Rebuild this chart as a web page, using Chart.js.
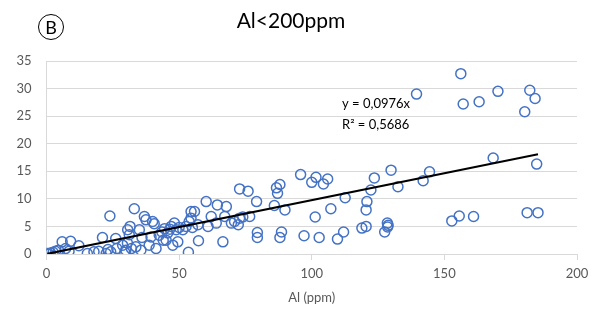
<!DOCTYPE html>
<html>
<head>
<meta charset="utf-8">
<script src="https://cdn.jsdelivr.net/npm/chart.js@4.4.1/dist/chart.umd.min.js"></script>
<style>
  html, body { margin: 0; padding: 0; background: #ffffff; }
  #wrap { width: 596px; height: 315px; position: relative; }
</style>
</head>
<body>
<div id="wrap"><canvas id="c" width="596" height="315"></canvas></div>
<script>
// ---- data ----
const chartTitle = "Al<200ppm";
const panelLabel = "B";
const xAxisTitle = "Al (ppm)";
const trendSlope = 0.0976;
const trendText = "y = 0,0976x";
const r2Text = "R² = 0,5686";
const xTicks = [0, 50, 100, 150, 200];
const yTicks = [0, 5, 10, 15, 20, 25, 30, 35];

const alValues = [
  0.3, 0.8, 1.5, 2.5, 3.4, 4.5, 5.9, 7.2, 9.1, 8.5, 12.2, 15.4, 17.9, 19.7, 21.1, 22.5, 23.2, 23.9, 24.2, 26.1,
  26.5, 28.7, 29.9, 29.5, 30.6, 31.2, 30.5, 31.5, 32.0,
  33.1, 33.7, 35.0, 35.6, 36.9, 37.5, 36.0, 38.7, 39.4, 40.0, 40.6, 41.3, 42.5, 43.5, 44.0, 45.1, 45.7, 46.5, 47.6,
  48.2, 48.9, 49.5, 50.0, 51.4, 52.6, 53.5, 53.8, 54.5, 54.5, 55.8, 55.0, 57.1, 57.3, 47.0, 44.5,
  60.2, 60.9, 62.1, 64.0, 64.4, 66.5, 67.2, 67.8, 69.7, 70.9, 72.3, 72.8, 72.8, 74.0, 76.0, 76.6, 79.2, 79.5, 79.5,
  85.9, 86.7, 87.1, 88.0, 88.0, 88.6, 89.9,
  95.8, 97.1, 100.0, 101.3, 101.6, 102.8, 104.4, 106.0, 107.2, 109.7, 112.0, 112.6, 118.9, 120.5, 120.5, 120.8,
  122.3, 123.6, 127.5, 128.5, 128.8, 128.6, 129.9, 132.5, 139.5,
  142.0, 144.4, 152.8, 155.6, 156.2, 157.1, 161.0, 163.1, 168.4, 170.2, 180.3, 181.2, 182.2, 184.2, 184.8, 185.3
];
const otherValues = [
  0.1, 0.0, 0.2, 0.3, 0.5, 0.7, 2.2, 1.0, 2.3, 0.5, 1.5, 0.1, 0.4, 0.5, 3.0, 0.1, 0.8, 6.9, 0.4, 2.8,
  1.0, 1.6, 0.7, 0.3, 4.4, 3.5, 2.0, 5.0, 1.0,
  8.2, 1.3, 4.4, 0.7, 6.8, 6.2, 3.0, 1.6, 3.1, 5.9, 5.5, 1.0, 3.4, 4.0, 2.5, 2.5, 3.8, 4.5, 1.6,
  5.6, 4.4, 2.2, 4.8, 4.4, 5.0, 0.3, 5.9, 7.7, 6.5, 7.7, 4.8, 5.3, 2.4, 5.0, 4.6,
  9.5, 5.0, 6.8, 5.6, 8.9, 2.2, 6.8, 8.6, 5.6, 5.9, 5.3, 6.5, 11.8, 6.7, 11.4, 6.8, 9.5, 3.9, 3.0,
  8.8, 12.0, 11.0, 12.6, 3.0, 4.0, 8.0,
  14.4, 3.3, 13.0, 6.7, 13.9, 3.0, 12.7, 13.6, 8.2, 2.7, 4.0, 10.2, 4.7, 5.0, 8.0, 9.5,
  11.6, 13.8, 4.0, 5.6, 5.2, 4.9, 15.2, 12.2, 29.0,
  13.3, 14.9, 6.0, 6.9, 32.7, 27.2, 6.8, 27.6, 17.4, 29.5, 25.8, 7.5, 29.7, 28.2, 16.3, 7.5
];

const points = alValues.map((x, i) => ({ x: x, y: otherValues[i] }));
const xMin = Math.min(...alValues), xMax = Math.max(...alValues);
const trendPoints = [{ x: xMin, y: trendSlope * xMin }, { x: xMax, y: trendSlope * xMax }];

const FONT = "Lato, 'Open Sans', sans-serif";

const annotations = {
  id: 'annotations',
  afterDraw(chart) {
    const ctx = chart.ctx;
    const xs = chart.scales.x, ys = chart.scales.y;
    ctx.save();
    // Title
    ctx.fillStyle = '#000000';
    ctx.font = "21px " + FONT;
    ctx.textAlign = 'center';
    ctx.textBaseline = 'middle';
    ctx.fillText(chartTitle, 291, 21);
    // Circled panel letter
    ctx.beginPath();
    ctx.arc(51, 27, 12.5, 0, Math.PI * 2);
    ctx.strokeStyle = '#000000';
    ctx.lineWidth = 1;
    ctx.stroke();
    ctx.font = "18px " + FONT;
    ctx.fillText(panelLabel, 51, 28);
    // Trendline equation
    ctx.font = "13px " + FONT;
    ctx.textAlign = 'left';
    ctx.fillText(trendText, 342, 104);
    ctx.fillText(r2Text, 342, 125);
    ctx.restore();
  }
};

new Chart(document.getElementById('c'), {
  type: 'scatter',
  data: {
    datasets: [
      {
        label: 'data',
        data: points,
        showLine: false,
        pointStyle: 'circle',
        pointRadius: 5,
        pointHoverRadius: 5,
        pointBorderWidth: 1.5,
        pointBorderColor: '#4472C4',
        pointBackgroundColor: 'rgba(0,0,0,0)',
        order: 2
      },
      {
        label: 'trend',
        data: trendPoints,
        showLine: true,
        borderColor: '#000000',
        borderWidth: 2,
        pointRadius: 0,
        fill: false,
        order: 1
      }
    ]
  },
  options: {
    responsive: false,
    animation: false,
    devicePixelRatio: 1,
    layout: { padding: { top: 61, right: 19, left: 0, bottom: 0 } },
    plugins: {
      legend: { display: false },
      tooltip: { enabled: false },
      title: { display: false }
    },
    scales: {
      x: {
        type: 'linear',
        min: 0, max: 200,
        afterBuildTicks(scale) { scale.ticks = xTicks.map(v => ({ value: v })); },
        afterFit(scale) { scale.height = 61; },
        grid: { display: true, drawOnChartArea: false, drawTicks: true, tickLength: 6, color: '#d9d9d9' },
        border: { display: true, color: '#d9d9d9', width: 1 },
        ticks: { color: '#595959', font: { family: FONT, size: 13 }, padding: 6, maxRotation: 0 },
        title: { display: true, text: xAxisTitle, color: '#595959', font: { family: FONT, size: 13 }, padding: { top: 0, bottom: 9 } }
      },
      y: {
        type: 'linear',
        min: 0, max: 35,
        afterBuildTicks(scale) { scale.ticks = yTicks.map(v => ({ value: v })); },
        afterFit(scale) { scale.width = 46.5; },
        grid: { display: true, drawTicks: false, color: '#d9d9d9', lineWidth: 1 },
        border: { display: true, color: '#d9d9d9', width: 1 },
        ticks: { color: '#595959', font: { family: FONT, size: 13 }, padding: 15 }
      }
    }
  },
  plugins: [annotations]
});
</script>
</body>
</html>
